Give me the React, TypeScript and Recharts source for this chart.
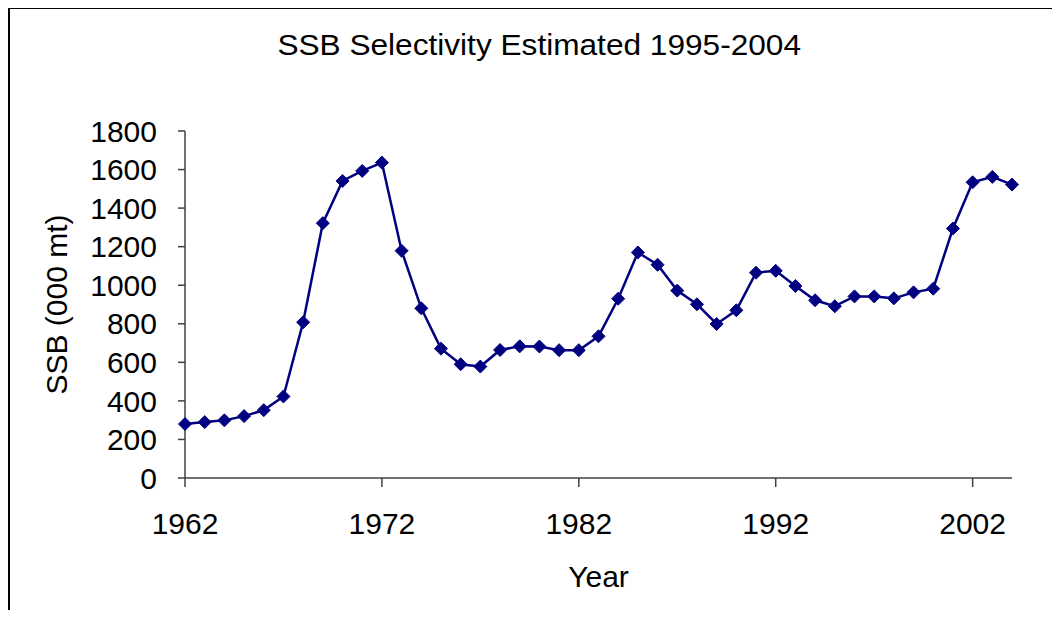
import React from 'react';
import { LineChart, Line, XAxis, YAxis } from 'recharts';

const years: number[] = [
  1962, 1963, 1964, 1965, 1966, 1967, 1968, 1969, 1970, 1971, 1972, 1973, 1974, 1975,
  1976, 1977, 1978, 1979, 1980, 1981, 1982, 1983, 1984, 1985, 1986, 1987, 1988, 1989,
  1990, 1991, 1992, 1993, 1994, 1995, 1996, 1997, 1998, 1999, 2000, 2001, 2002, 2003, 2004,
];

const ssb: number[] = [
  280, 290, 299, 321, 352, 423, 808, 1322, 1541, 1593, 1636, 1179, 880, 671,
  590, 578, 664, 683, 682, 663, 663, 735, 930, 1170, 1106, 972, 901, 799,
  870, 1065, 1075, 996, 922, 891, 942, 942, 932, 963, 982, 1294, 1534, 1562, 1522,
];

const xTicks: number[] = [1962, 1972, 1982, 1992, 2002];
const yTicks: number[] = [0, 200, 400, 600, 800, 1000, 1200, 1400, 1600, 1800];

const title = 'SSB Selectivity Estimated 1995-2004';
const xLabel = 'Year';
const yLabel = 'SSB (000 mt)';

const data = years.map((y, i) => ({ year: y, ssb: ssb[i] }));

const FONT = '"Liberation Sans", Arial, sans-serif';
const NAVY = '#000080';
const AXIS = '#404040';

const Diamond = (props: any) => {
  const { cx, cy, index } = props;
  if (cx == null || cy == null) return <g key={`d-${index}`} />;
  const r = 6.5;
  return (
    <polygon
      key={`d-${index}`}
      points={`${cx},${cy - r} ${cx + r},${cy} ${cx},${cy + r} ${cx - r},${cy}`}
      fill={NAVY}
      stroke={NAVY}
      strokeWidth={1}
    />
  );
};

const YLabelContent = (props: any) => {
  const vb = props.viewBox || { x: 0, y: 0, width: 0, height: 0 };
  const x = vb.x + 59;
  const y = vb.y + vb.height / 2;
  return (
    <text
      x={x}
      y={y}
      transform={`rotate(-90, ${x}, ${y})`}
      textAnchor="middle"
      fontFamily={FONT}
      fontSize={30}
      fill="#000"
    >
      {yLabel}
    </text>
  );
};

const XLabelContent = (props: any) => {
  const vb = props.viewBox || { x: 0, y: 0, width: 0, height: 0 };
  const x = vb.x + vb.width / 2;
  const y = 579;
  return (
    <text x={x} y={y} textAnchor="middle" fontFamily={FONT} fontSize={30} fill="#000">
      {xLabel}
    </text>
  );
};

export default function App() {
  return (
    <div style={{ position: 'relative', width: 1044, height: 602, fontFamily: FONT }}>
      <div
        style={{
          position: 'absolute',
          left: 0,
          top: -1,
          width: 1044,
          height: 611,
          borderTop: '2px solid #000',
          borderLeft: '2px solid #000',
          boxSizing: 'border-box',
          pointerEvents: 'none',
        }}
      />
      <div
        style={{
          position: 'absolute',
          left: 0,
          top: 19,
          width: 1063,
          textAlign: 'center',
          fontSize: 29,
          lineHeight: '36px',
          color: '#000',
          whiteSpace: 'nowrap',
        }}
      >
        <span style={{ display: 'inline-block', transform: 'scaleX(1.09)' }}>{title}</span>
      </div>
      <LineChart
        width={1044}
        height={602}
        data={data}
        margin={{ top: 123, right: 40, bottom: 32, left: 0 }}
      >
        <XAxis
          dataKey="year"
          type="number"
          domain={[1962, 2004]}
          ticks={xTicks}
          interval={0}
          height={100}
          tickSize={9}
          tickMargin={26}
          axisLine={{ stroke: AXIS, strokeWidth: 1.5 }}
          tickLine={{ stroke: AXIS, strokeWidth: 1.5 }}
          tick={{ fill: '#000', fontSize: 30, fontFamily: FONT }}
          label={{ content: XLabelContent }}
        />
        <YAxis
          type="number"
          domain={[0, 1800]}
          ticks={yTicks}
          interval={0}
          width={177}
          tickSize={7}
          tickMargin={21}
          axisLine={{ stroke: AXIS, strokeWidth: 1.5 }}
          tickLine={{ stroke: AXIS, strokeWidth: 1.5 }}
          tick={{ fill: '#000', fontSize: 30, fontFamily: FONT }}
          label={{ content: YLabelContent }}
        />
        <Line
          type="linear"
          dataKey="ssb"
          stroke={NAVY}
          strokeWidth={2.5}
          dot={Diamond}
          activeDot={false}
          isAnimationActive={false}
        />
      </LineChart>
    </div>
  );
}
